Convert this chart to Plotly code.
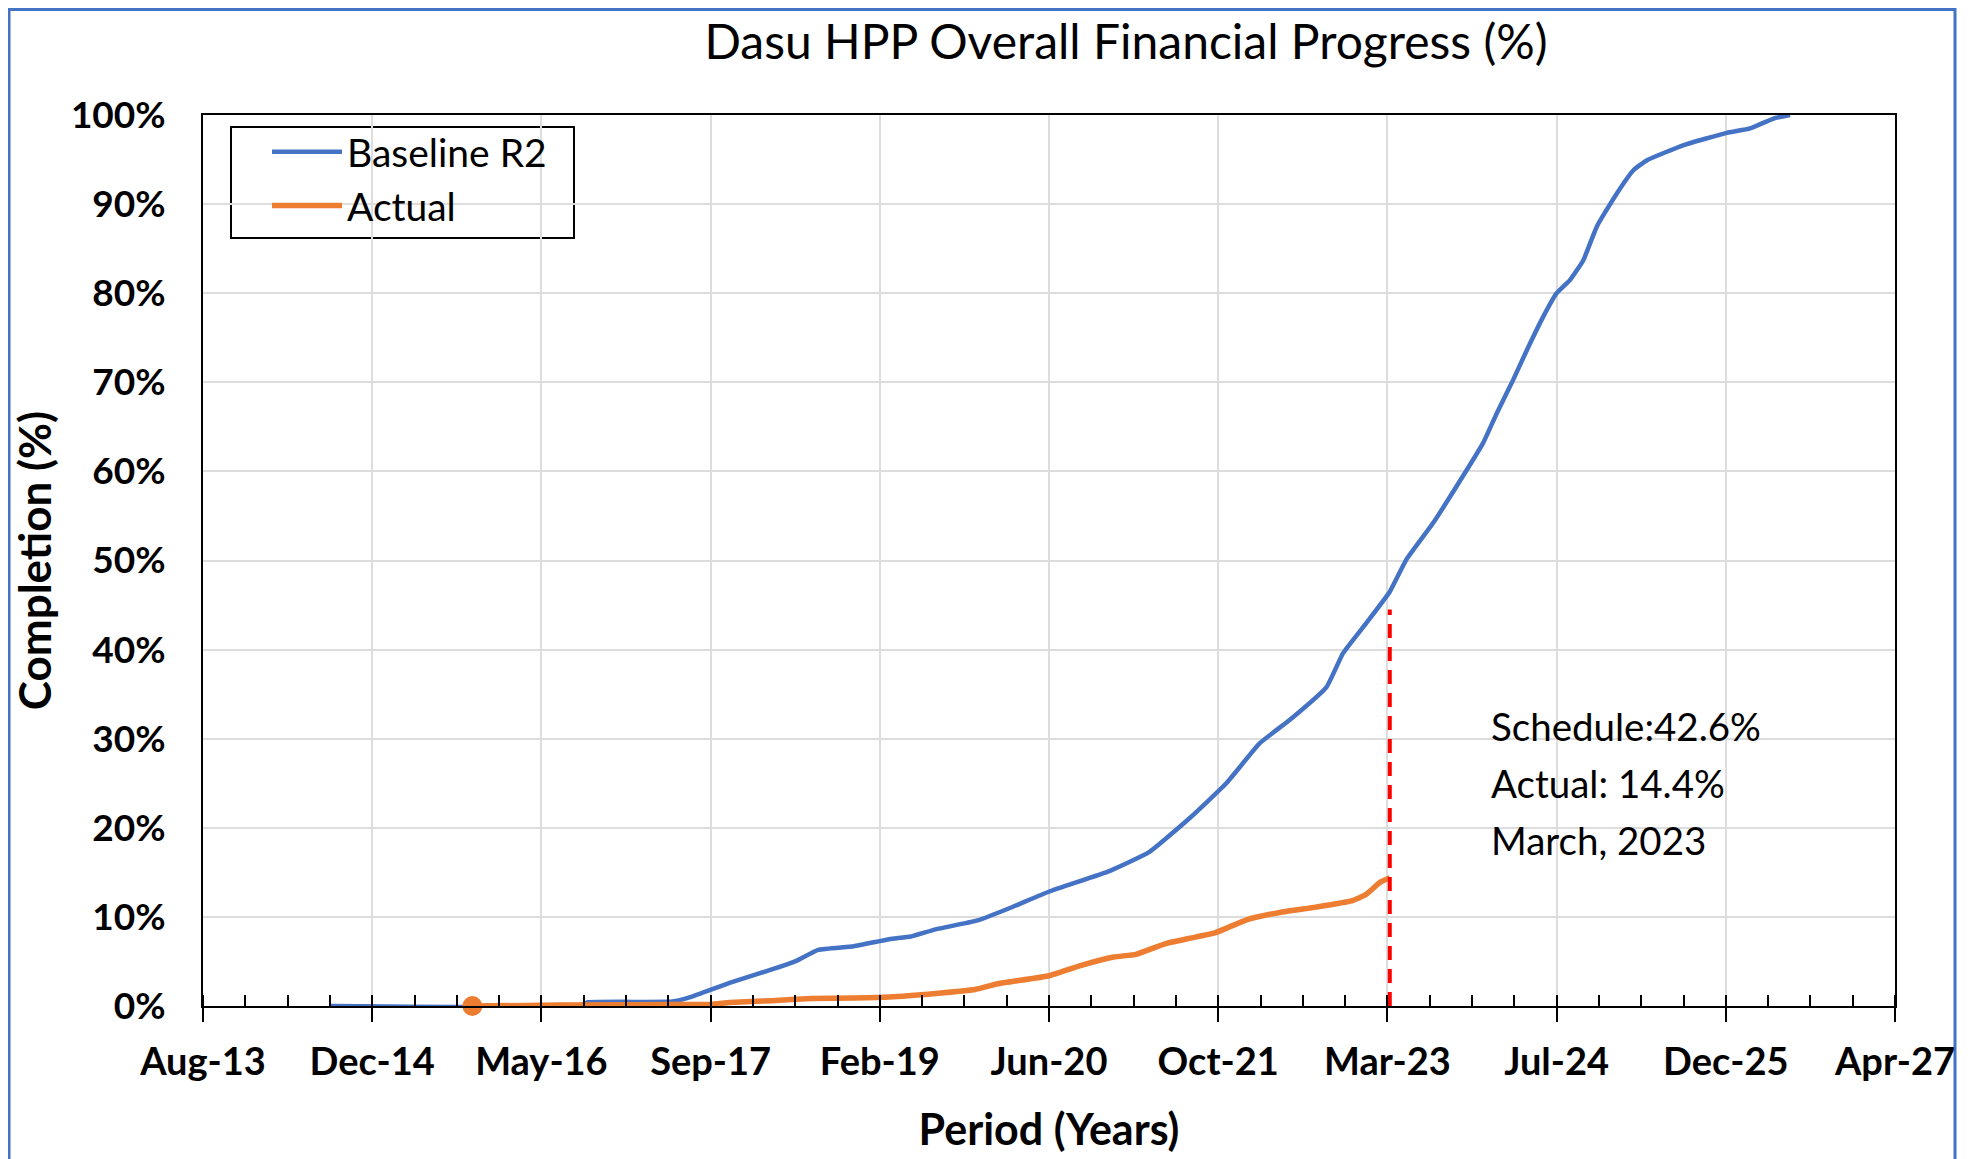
import plotly.graph_objects as go

# ---------------- data ----------------
baseline_dates = ["2014-08-25", "2016-08-31", "2016-09-20", "2017-05-30", "2017-07-22",
                  "2017-11-15", "2018-03-20", "2018-06-02", "2018-08-04", "2018-11-17",
                  "2019-03-02", "2019-05-05", "2019-07-17", "2019-11-18", "2020-02-28",
                  "2020-06-17", "2020-12-15", "2021-04-09", "2021-08-06", "2021-11-22",
                  "2022-03-01", "2022-05-28", "2022-09-14", "2022-11-02", "2023-01-10",
                  "2023-03-20", "2023-05-08", "2023-07-26", "2023-10-03", "2023-12-21",
                  "2024-01-30", "2024-03-19", "2024-04-28", "2024-06-16", "2024-07-25",
                  "2024-09-03", "2024-10-12", "2024-11-21", "2025-01-19", "2025-03-09",
                  "2025-04-17", "2025-08-03", "2025-12-10", "2026-02-17", "2026-04-27",
                  "2026-06-15"]
baseline_pct = [0.0, 0.0, 0.4, 0.5, 1.0,
                2.6, 4.1, 5.1, 6.3, 6.7,
                7.5, 7.8, 8.6, 9.6, 11.1,
                12.85, 15.2, 17.3, 21.1, 25.0,
                29.5, 32.1, 35.8, 39.6, 43.0,
                46.5, 50.1, 54.2, 58.3, 63.2,
                66.5, 70.3, 73.6, 77.4, 80.0,
                81.5, 83.7, 87.5, 91.2, 93.8,
                94.9, 96.6, 98.0, 98.5, 99.6,
                100.0]

actual_dates = ["2015-10-17", "2016-06-30", "2017-09-20", "2017-11-15", "2018-03-20",
                "2018-07-15", "2018-11-17", "2019-03-02", "2019-07-17", "2019-11-10",
                "2020-01-17", "2020-06-17", "2020-09-14", "2020-12-25", "2021-02-28",
                "2021-05-27", "2021-08-06", "2021-10-19", "2022-01-23", "2022-04-29",
                "2022-08-13", "2022-11-27", "2023-01-08", "2023-02-20", "2023-03-20"]
actual_pct = [0.0, 0.1, 0.2, 0.4, 0.6,
              0.85, 0.9, 1.0, 1.4, 1.85,
              2.5, 3.4, 4.5, 5.5, 5.8,
              7.0, 7.6, 8.2, 9.7, 10.5,
              11.1, 11.8, 12.5, 13.9, 14.4]

status_date = ["2023-03-20", "2023-03-20"]
status_pct = [0.0, 44.5]

status_lines = ["Schedule:42.6%", "Actual: 14.4%", "March, 2023"]

axis_start = "2013-08-12"
axis_end = "2027-04-21"
DAY_MS = 86400000

FONT = "Lato, 'Open Sans', sans-serif"
BLUE = "#4472C4"
ORANGE = "#ED7D31"

# ---------------- geometry helpers ----------------
W, H = 1979, 1159
OFF = 8  # page body margin offset
PL, PR, PT, PB = 203 - OFF, 1895 - OFF, 115 - OFF, 1006 - OFF


def px(x_ref):
    return (x_ref - OFF - PL) / (PR - PL)


def py(y_ref):
    return (PB - (y_ref - OFF)) / (PB - PT)


fig = go.Figure()

fig.add_trace(go.Scatter(
    x=baseline_dates, y=baseline_pct, mode="lines", name="Baseline R2",
    line=dict(color=BLUE, width=4.5, shape="spline", smoothing=0.4),
))
fig.add_trace(go.Scatter(
    x=actual_dates, y=actual_pct, mode="lines", name="Actual",
    line=dict(color=ORANGE, width=5.5, shape="spline", smoothing=0.4),
))
fig.add_trace(go.Scatter(
    x=actual_dates[:1], y=actual_pct[:1], mode="markers", showlegend=False,
    marker=dict(color=ORANGE, size=20, symbol="circle"), cliponaxis=False,
))
fig.add_trace(go.Scatter(
    x=status_date, y=status_pct, mode="lines", showlegend=False,
    line=dict(color="#FF0000", width=4, dash="14px,9px"),
))

for i, txt in enumerate(status_lines):
    fig.add_annotation(
        text=txt, xref="paper", yref="paper", x=px(1489), y=py(726 + i * 57),
        xanchor="left", yanchor="middle", showarrow=False,
        font=dict(family=FONT, size=38.5, color="black"),
    )

# outer chart border
fig.add_shape(type="rect", xref="paper", yref="paper",
              x0=px(9), x1=px(1955), y0=py(1175), y1=py(OFF + 1.5),
              line=dict(color=BLUE, width=3), fillcolor="rgba(0,0,0,0)", layer="below")

# legend frame
fig.add_shape(type="rect", xref="paper", yref="paper",
              x0=px(231), x1=px(574), y0=py(238), y1=py(127),
              line=dict(color="black", width=2), fillcolor="white", layer="below")

fig.update_layout(
    width=W, height=H,
    margin=dict(l=PL, r=W - PR, t=PT, b=H - PB),
    paper_bgcolor="white", plot_bgcolor="white",
    font=dict(family=FONT, color="black"),
    title=dict(text="Dasu HPP Overall Financial Progress (%)", xref="paper",
               x=px(1126), xanchor="center", y=1 - (42 - OFF) / H, yanchor="middle",
               font=dict(family=FONT, size=48, color="black")),
    legend=dict(x=px(267), y=py(120), xanchor="left", yanchor="top",
                borderwidth=0, bgcolor="rgba(0,0,0,0)",
                font=dict(family=FONT, size=39, color="black"),
                itemwidth=70, tracegroupgap=0),
    showlegend=True,
)

fig.update_xaxes(
    type="date", range=[axis_start, axis_end],
    tick0=axis_start, dtick=500 * DAY_MS, tickformat="%b-%y",
    ticks="outside", ticklen=14, tickwidth=2, tickcolor="black",
    showline=True, linecolor="black", linewidth=2, mirror=True,
    showgrid=True, gridcolor="#DDDDDD", gridwidth=1.5,
    zeroline=False,
    minor=dict(tick0=axis_start, dtick=125 * DAY_MS, ticks="inside", ticklen=11,
               tickwidth=2, tickcolor="black", showgrid=False),
    tickfont=dict(family=FONT, size=38, color="black", weight="bold"),
    ticklabelstandoff=7,
    title=dict(text="Period (Years)", standoff=33,
               font=dict(family=FONT, size=43, color="black", weight="bold")),
)

fig.update_yaxes(
    range=[0, 100], dtick=10, ticksuffix="%",
    ticks="", showline=True, linecolor="black", linewidth=2, mirror=True,
    showgrid=True, gridcolor="#DDDDDD", gridwidth=1.5, zeroline=False,
    tickfont=dict(family=FONT, size=37, color="black", weight="bold"),
    ticklabelstandoff=28,
    title=dict(text="Completion (%)", standoff=18,
               font=dict(family=FONT, size=44, color="black", weight="bold")),
)

fig.write_html("out.html")
